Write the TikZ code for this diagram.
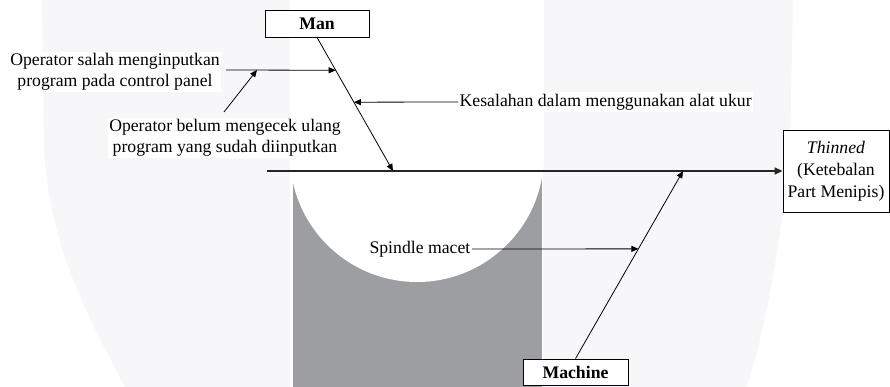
\documentclass[tikz,border=0pt]{standalone}
\usepackage{fontspec}
\setmainfont{Liberation Serif}
\usetikzlibrary{arrows.meta,calc}
\definecolor{wm}{HTML}{F7F7F9}
\definecolor{wmdark}{HTML}{9D9EA2}
\begin{document}
\begin{tikzpicture}[x=1pt,y=-1pt,
  box/.style={draw=black,line width=0.8pt,fill=white,align=center,inner sep=0pt,font=\fontsize{17.7}{22}\selectfont},
  lbl/.style={fill=white,align=center,inner sep=1.5pt,font=\fontsize{17.7}{21.5}\selectfont},
  arr/.style={draw=black,line width=0.8pt,-{Triangle[length=7pt,width=6pt]}},
  spine/.style={draw=black!85,line width=1.3pt,-{Triangle[length=8pt,width=7pt]}}]
\useasboundingbox (0,0) rectangle (890,387);
% background watermark
\fill[wm] (42,0) -- (44,150) .. controls (50,250) and (90,320) .. (125,387) -- (747,387) .. controls (765,330) and (780,250) .. (790,150) -- (793,0) -- cycle;
\fill[white] (290,0) rectangle (543,387);
\fill[wmdark] (293,150) rectangle (542,387);
\fill[white] (290,0) rectangle (544,155);
\fill[white] (417,155) circle (127pt);
% boxes
\node[box,minimum width=104pt,minimum height=27pt] (man) at (317,23.5) {\textbf{Man}};
\node[box,minimum width=105pt,minimum height=26pt] (mac) at (575.5,372) {\textbf{Machine}};
\node[box,minimum width=106pt,minimum height=82pt] (thin) at (836,171) {\textit{Thinned}\\(Ketebalan\\Part Menipis)};
% labels
\node[lbl] (t1) at (115,72) {Operator salah menginputkan\\program pada control panel};
\node[lbl] (t2) at (225,138) {Operator belum mengecek ulang\\program yang sudah diinputkan};
\node[lbl,anchor=west] (t3) at (458,102) {Kesalahan dalam menggunakan alat ukur};
\node[lbl,anchor=east] (t4) at (472,249) {Spindle macet};
% coordinates
\coordinate (sL) at (267,171);
\coordinate (manHit) at (393,171);
\coordinate (macHit) at (683,171);
\coordinate (salahTip) at ($(man.south)!0.246!(manHit)$);
\coordinate (salahStart) at (226,70);
\coordinate (belumTip) at (257,70);
\coordinate (belumStart) at (224,112);
\coordinate (kesTip) at ($(man.south)!0.485!(manHit)$);
\coordinate (spTip) at ($(mac.north)!0.585!(macHit)$);
% connectors
\draw[spine] (sL) -- (thin.west);
\draw[arr] (man.south) -- (manHit);
\draw[arr] (mac.north) -- (macHit);
\draw[arr] (salahStart) -- (salahTip);
\draw[arr] (belumStart) -- (belumTip);
\draw[arr] (t3.west) -- (kesTip);
\draw[arr] (t4.east) -- (spTip);
\end{tikzpicture}
\end{document}
